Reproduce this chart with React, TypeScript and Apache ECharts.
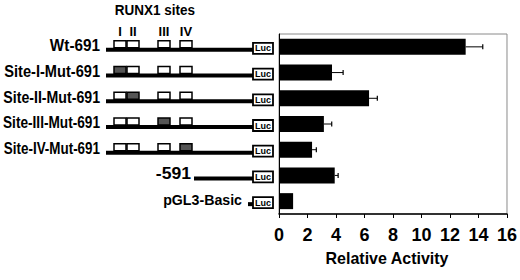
import React, { useEffect, useRef } from "react";
import * as echarts from "echarts";

const categories = ["Wt-691", "Site-I-Mut-691", "Site-II-Mut-691", "Site-III-Mut-691", "Site-IV-Mut-691", "-591", "pGL3-Basic"];
const values = [13.1, 3.72, 6.32, 3.15, 2.32, 3.91, 0.99];
const errors = [1.2, 0.78, 0.58, 0.55, 0.3, 0.24, 0];
// which RUNX1 site is mutated per construct (-1 none); null = no sites drawn
const mutatedSite: (number | null)[] = [-1, 0, 1, 2, 3, null, null];
const siteNames = ["I", "II", "III", "IV"];
const xTicks = { min: 0, max: 16, interval: 2 };

// layout (pixels)
const GRID = { left: 279, top: 34, width: 232, height: 180 };
const labelRight = [100, 100, 100, 100, 100, 191, 242];
const labelSize = [15, 14.6, 14.6, 14.6, 14.6, 16, 14.2];
const labelScaleX = [1.02, 1.0, 0.97, 0.935, 0.92, 1.1, 1.0];
const labelScaleY = [1.06, 1.08, 1.08, 1.08, 1.08, 1.0, 1.05];
const lineStart = [106, 106, 106, 106, 106, 194, 248];
const siteX = [114, 127, 158, 180];
const siteW = 12;
const lucX = 253;
const lucW = 20;

const FONT = "'Liberation Sans', Arial, sans-serif";

export default function App() {
  const ref = useRef<HTMLDivElement>(null);
  useEffect(() => {
    if (!ref.current) return;
    const chart = echarts.init(ref.current, undefined, { renderer: "svg" });
    const band = GRID.height / categories.length;
    const rowY = (i: number) => GRID.top + (i + 0.5) * band;
    const graphics: any[] = [];
    graphics.push({
      type: "text",
      x: 155,
      y: 10,
      scaleY: 1.1,
      style: { text: "RUNX1 sites", font: `bold 13.5px ${FONT}`, fill: "#000", align: "center", verticalAlign: "middle" },
    });
    siteNames.forEach((s, k) => {
      graphics.push({
        type: "text",
        x: siteX[k] + siteW / 2,
        y: 31,
        scaleY: 1.05,
        style: { text: s, font: `bold 13px ${FONT}`, fill: "#000", align: "center", verticalAlign: "middle" },
      });
    });
    categories.forEach((c, i) => {
      const y = rowY(i);
      graphics.push({
        type: "text",
        x: labelRight[i],
        y: y - 1.5,
        scaleX: labelScaleX[i],
        scaleY: labelScaleY[i],
        style: { text: c, font: `bold ${labelSize[i]}px ${FONT}`, fill: "#000", align: "right", verticalAlign: "middle" },
      });
      graphics.push({
        type: "rect",
        shape: { x: lineStart[i], y: y + 1, width: lucX - lineStart[i], height: 4 },
        style: { fill: "#000" },
      });
      const m = mutatedSite[i];
      if (m !== null) {
        siteX.forEach((sx, k) => {
          graphics.push({
            type: "rect",
            shape: { x: sx, y: y - 6, width: siteW, height: 7 },
            style: { fill: k === m ? "#555" : "#fff", stroke: "#000", lineWidth: 1.5 },
          });
        });
      }
      graphics.push({
        type: "rect",
        shape: { x: lucX, y: y - 4, width: lucW, height: 11 },
        style: { fill: "#fff", stroke: "#000", lineWidth: 1.8 },
      });
      graphics.push({
        type: "text",
        x: lucX + lucW / 2,
        y: y + 1.5,
        style: { text: "Luc", font: `bold 9px ${FONT}`, fill: "#000", align: "center", verticalAlign: "middle" },
      });
    });
    graphics.push({
      type: "text",
      x: 387,
      y: 258,
      scaleY: 1.05,
      style: { text: "Relative Activity", font: `bold 16px ${FONT}`, fill: "#000", align: "center", verticalAlign: "middle" },
    });

    chart.setOption({
      animation: false,
      grid: {
        left: GRID.left,
        top: GRID.top,
        width: GRID.width,
        height: GRID.height,
        show: true,
        borderColor: "#8a8a8a",
        borderWidth: 1,
        containLabel: false,
      },
      xAxis: {
        type: "value",
        min: xTicks.min,
        max: xTicks.max,
        interval: xTicks.interval,
        axisLine: { show: true, lineStyle: { color: "#000", width: 1.5 } },
        axisTick: { show: true, length: 4, lineStyle: { color: "#000", width: 1 } },
        splitLine: { show: false },
        axisLabel: { margin: 12, fontSize: 18, fontWeight: "bold", fontFamily: FONT, color: "#000" },
      },
      yAxis: {
        type: "category",
        data: categories,
        inverse: true,
        axisLine: { show: true, lineStyle: { color: "#000", width: 1 } },
        axisTick: { show: false },
        axisLabel: { show: false },
      },
      series: [
        {
          type: "bar",
          data: values,
          barWidth: 16,
          itemStyle: { color: "#000" },
        },
        {
          type: "custom",
          data: values.map((v, i) => [v, i, errors[i]]),
          encode: { x: 0, y: 1 },
          renderItem: (params: any, api: any) => {
            const v = api.value(0);
            const idx = api.value(1);
            const e = api.value(2);
            if (!e) return null;
            const p0 = api.coord([v, idx]);
            const p1 = api.coord([v + e, idx]);
            return {
              type: "group",
              children: [
                { type: "line", shape: { x1: p0[0], y1: p0[1], x2: p1[0], y2: p1[1] }, style: { stroke: "#000", lineWidth: 1 } },
                { type: "line", shape: { x1: p1[0], y1: p1[1] - 2.5, x2: p1[0], y2: p1[1] + 2.5 }, style: { stroke: "#000", lineWidth: 1.2 } },
              ],
            };
          },
          z: 3,
        },
      ],
      graphic: graphics,
    });
    return () => chart.dispose();
  }, []);
  return <div ref={ref} style={{ position: "absolute", left: 0, top: 0, width: 520, height: 280 }} />;
}
